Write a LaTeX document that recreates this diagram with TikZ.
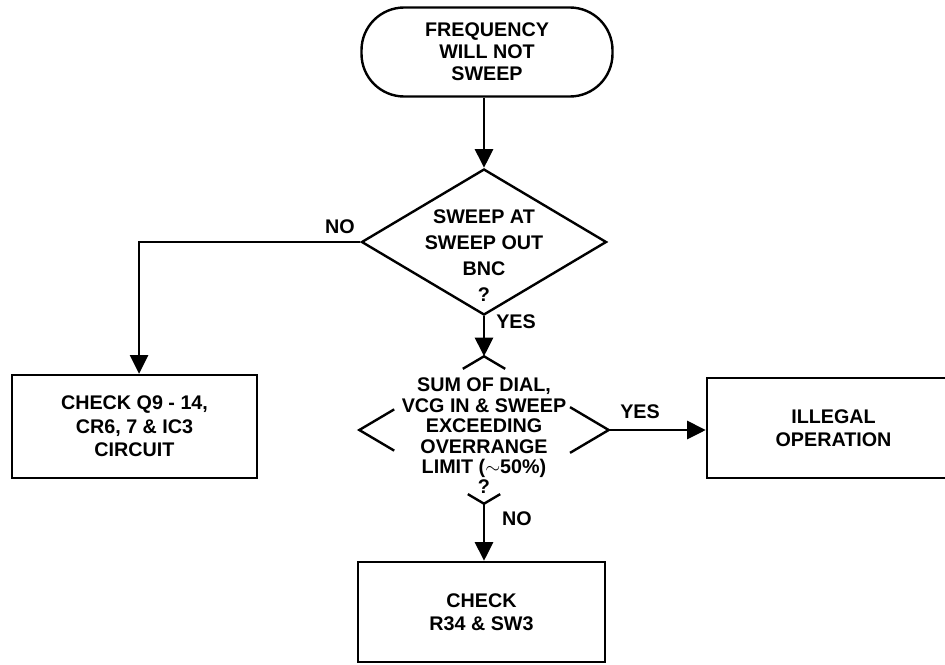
\documentclass[tikz,border=0pt]{standalone}
\usepackage{fontspec}
\setmainfont{Liberation Sans}
\usetikzlibrary{shapes.geometric,arrows.meta,calc}

\tikzset{
  txt/.style={align=center,inner sep=0pt,font=\bfseries\fontsize{14.8}{#1}\selectfont},
  txt/.default=17.6pt,
  termbox/.style={draw,line width=1.8pt,rounded corners=32pt,minimum width=188.25pt,minimum height=66.75pt,txt=16.5pt},
  actbox/.style={draw,line width=1.8pt,rectangle,minimum height=75pt,txt},
  ask/.style={diamond,line width=1.8pt,inner sep=0pt,minimum width=#1},
  flow/.style={line width=1.8pt,-{Triangle[length=14pt,width=13.5pt]}},
}

\begin{document}
\begin{tikzpicture}[x=0.75pt,y=-0.75pt]
\useasboundingbox (0,0) rectangle (945,664);
\clip (0,0) rectangle (945,664);

\node[termbox] (start) at (487,52) {FREQUENCY\\WILL NOT\\SWEEP};

% first question
\node[ask=183.75pt,draw,minimum height=109.5pt] (q1) at (484,242) {};
\node[txt=19.5pt] (q1txt) at (484,256) {SWEEP AT\\SWEEP OUT\\BNC\\?};

% second question, outline broken by the text
\node[ask=185.25pt,minimum height=108.75pt] (q2) at (484,430) {};
\node[txt=15.3pt] (q2txt) at (484,436) {SUM OF DIAL,\\VCG IN \& SWEEP\\EXCEEDING\\OVERRANGE\\LIMIT ($\sim$50\%)\\?};
\draw[line width=1.8pt] ($(q2.north)!0.17!(q2.west)$) -- (q2.north) -- ($(q2.north)!0.17!(q2.east)$);
\draw[line width=1.8pt] ($(q2.west)!0.28!(q2.north)$) -- (q2.west) -- ($(q2.west)!0.28!(q2.south)$);
\draw[line width=1.8pt] ($(q2.east)!0.31!(q2.north)$) -- (q2.east) -- ($(q2.east)!0.31!(q2.south)$);
\draw[line width=1.8pt] ($(q2.south)!0.13!(q2.west)$) -- (q2.south) -- ($(q2.south)!0.13!(q2.east)$);

\node[actbox,minimum width=183.75pt,minimum height=77.25pt] (chk1) at (134.5,426.5) {CHECK Q9 - 14,\\CR6, 7 \& IC3\\CIRCUIT};
\node[actbox,minimum width=189.75pt] (ill) at (833.5,428) {ILLEGAL\\OPERATION};
\node[actbox,minimum width=185.25pt] (chk2) at (481.5,612) {CHECK\\R34 \& SW3};

\draw[flow] (q1.north |- start.south) -- (q1.north);
\draw[flow] (q1.west) -| ([xshift=3.4pt]chk1.north);
\draw[flow] (q1.south) -- (q2.north);
\draw[flow] (q2.east) -- (q2.east -| ill.west);
\draw[flow] (q2.south) -- (q2.south |- chk2.north);

\node[txt] (no1) at (340,227) {NO};
\node[txt] (yes1) at (516,322) {YES};
\node[txt] (yes2) at (640,412) {YES};
\node[txt] (no2) at (517,519) {NO};
\end{tikzpicture}
\end{document}
